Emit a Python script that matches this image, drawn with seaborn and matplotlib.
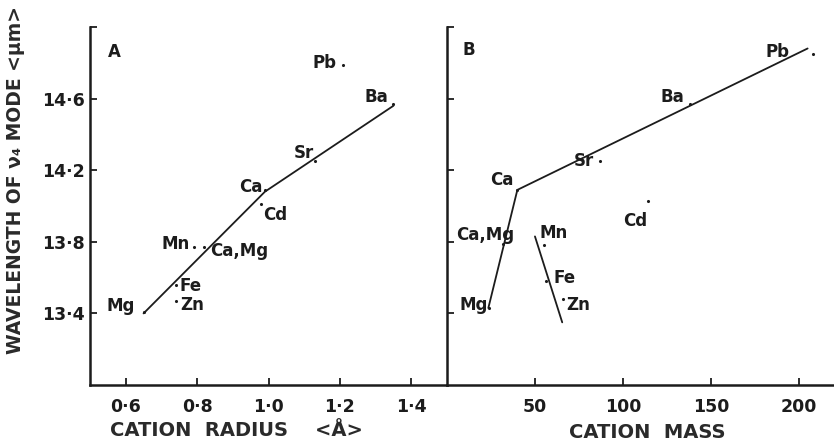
import numpy as np
import pandas as pd
import matplotlib
matplotlib.use("Agg")
import matplotlib.pyplot as plt
import seaborn as sns

sns.set_theme(style="white")
plt.rcParams['font.family'] = ['DejaVu Sans']
plt.rcParams['font.weight'] = 'bold'

ink = '#1c1c1c'

# cation data
cations = ['Pb', 'Ba', 'Sr', 'Ca', 'Cd', 'Mn', 'Ca,Mg', 'Fe', 'Zn', 'Mg']
radius = [1.21, 1.35, 1.13, 0.99, 0.98, 0.79, 0.82, 0.74, 0.74, 0.65]
wl_a = [14.79, 14.57, 14.25, 14.09, 14.01, 13.77, 13.77, 13.56, 13.47, 13.41]
mass = [208, 138, 87, 40, 114, 55, 32, 56, 66, 24]
wl_b = [14.85, 14.57, 14.25, 14.09, 14.03, 13.78, 13.79, 13.58, 13.48, 13.43]

# hand drawn trend lines
fit_a_x = [0.65, 0.99, 1.35]
fit_a_y = [13.40, 14.08, 14.56]
fit_b1_x = [23.5, 40, 205]
fit_b1_y = [13.43, 14.09, 14.88]
fit_b2_x = [50, 65.5]
fit_b2_y = [13.83, 13.35]

a_xticks = [0.6, 0.8, 1.0, 1.2, 1.4]
a_xlabels = ['0·6', '0·8', '1·0', '1·2', '1·4']
b_xticks = [50, 100, 150, 200]
yticks = [13.4, 13.8, 14.2, 14.6, 15.0]
ylabels = ['13·4', '13·8', '14·2', '14·6', '']

# label placement: (dx, dy) in points, ha
offs_a = {'Pb': (-5, 1, 'right'), 'Ba': (-4, 5, 'right'), 'Sr': (-1, 6, 'right'),
          'Ca': (-2, 2, 'right'), 'Cd': (1, -8, 'left'), 'Mn': (-3, 2, 'right'),
          'Ca,Mg': (4, -3, 'left'), 'Fe': (3, -1, 'left'), 'Zn': (3, -3, 'left'),
          'Mg': (-6, 4, 'right')}
offs_b = {'Pb': (-17, 1, 'right'), 'Ba': (-4, 5, 'right'), 'Sr': (-4, 0, 'right'),
          'Ca': (-3, 7, 'right'), 'Cd': (0, -15, 'right'), 'Mn': (-3, 9, 'left'),
          'Ca,Mg': (-13, 6, 'center'), 'Fe': (6, 2, 'left'), 'Zn': (2, -4, 'left'),
          'Mg': (-1, 2, 'right')}

df = pd.DataFrame({'cation': cations, 'radius': radius, 'wl_a': wl_a,
                   'mass': mass, 'wl_b': wl_b})

fig = plt.figure(figsize=(8.34, 4.47), dpi=100)
bot = 1 - 385 / 447
top = 1 - 27 / 447
axA = fig.add_axes([90 / 834, bot, (447 - 90) / 834, top - bot])
axB = fig.add_axes([447 / 834, bot, (834 - 447) / 834, top - bot])


def style_axis(ax):
    for s in ['top', 'right']:
        ax.spines[s].set_visible(False)
    for s in ['left', 'bottom']:
        ax.spines[s].set_color(ink)
        ax.spines[s].set_linewidth(1.8)
    ax.tick_params(direction='in', length=5, width=1.3, color=ink, labelcolor=ink,
                   labelsize=12.5, left=True, bottom=True)
    ax.tick_params(axis='x', pad=9)
    ax.tick_params(axis='y', pad=4)
    ax.set_ylim(13.0, 15.0)
    ax.set_xlabel('')
    ax.set_ylabel('')


# panel A
sns.lineplot(x=fit_a_x, y=fit_a_y, ax=axA, color=ink, lw=1.3, sort=False, estimator=None)
sns.scatterplot(data=df, x='radius', y='wl_a', ax=axA, color=ink, s=5, linewidth=0)
axA.set_xlim(0.5, 1.5)
axA.set_xticks(a_xticks)
axA.set_xticklabels(a_xlabels)
axA.set_yticks(yticks)
axA.set_yticklabels(ylabels)
style_axis(axA)
for _, r in df.iterrows():
    dx, dy, ha = offs_a[r['cation']]
    axA.annotate(r['cation'], (r['radius'], r['wl_a']), xytext=(dx, dy),
                 textcoords='offset points', ha=ha, va='center', fontsize=12,
                 fontweight='bold', color=ink)
axA.text(0.05, 0.93, 'A', transform=axA.transAxes, fontsize=12, fontweight='bold',
         color=ink, va='center')

# panel B
sns.lineplot(x=fit_b1_x, y=fit_b1_y, ax=axB, color=ink, lw=1.3, sort=False, estimator=None)
sns.lineplot(x=fit_b2_x, y=fit_b2_y, ax=axB, color=ink, lw=1.3, sort=False, estimator=None)
sns.scatterplot(data=df, x='mass', y='wl_b', ax=axB, color=ink, s=5, linewidth=0)
axB.set_xlim(0, 220)
axB.set_xticks(b_xticks)
axB.set_xticklabels([str(v) for v in b_xticks])
axB.set_yticks(yticks)
axB.set_yticklabels([''] * len(yticks))
style_axis(axB)
for _, r in df.iterrows():
    dx, dy, ha = offs_b[r['cation']]
    axB.annotate(r['cation'], (r['mass'], r['wl_b']), xytext=(dx, dy),
                 textcoords='offset points', ha=ha, va='center', fontsize=12,
                 fontweight='bold', color=ink)
axB.text(0.04, 0.935, 'B', transform=axB.transAxes, fontsize=12, fontweight='bold',
         color=ink, va='center')

# axis titles
fig.text(16 / 834, 1 - 180 / 447, 'WAVELENGTH OF ν₄ MODE <μm>', rotation=90,
         ha='center', va='center', fontsize=13.5, fontweight='bold', color='#2a2a2a')
fig.text(236 / 834, 1 - 430 / 447, 'CATION  RADIUS    <Å>', ha='center', va='center',
         fontsize=14, fontweight='bold', color='#2a2a2a')
fig.text(647 / 834, 1 - 433 / 447, 'CATION  MASS', ha='center', va='center',
         fontsize=14, fontweight='bold', color='#2a2a2a')

fig.savefig('out.png', dpi=100, facecolor='white')
